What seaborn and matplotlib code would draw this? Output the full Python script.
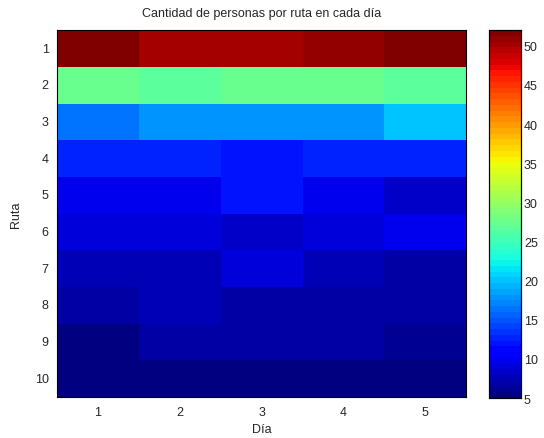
import numpy as np
import pandas as pd
import matplotlib
matplotlib.use("Agg")
import matplotlib.pyplot as plt
import seaborn as sns

dias = ["1", "2", "3", "4", "5"]
rutas = ["1", "2", "3", "4", "5", "6", "7", "8", "9", "10"]
ruta1 = [52.0, 50.1, 50.1, 50.9, 52.0]
ruta2 = [27.2, 26.6, 27.2, 27.2, 26.6]
ruta3 = [16.4, 17.6, 17.6, 17.6, 19.9]
ruta4 = [12.9, 12.9, 12.0, 12.9, 12.9]
ruta5 = [9.8, 9.8, 11.8, 9.8, 8.6]
ruta6 = [9.4, 9.4, 8.3, 8.8, 9.8]
ruta7 = [7.4, 7.4, 9.0, 7.7, 7.2]
ruta8 = [6.6, 7.3, 6.8, 6.8, 6.8]
ruta9 = [5.6, 6.5, 6.5, 6.5, 6.1]
ruta10 = [5.4, 5.3, 5.0, 5.2, 5.4]
cbar_ticks = [5, 10, 15, 20, 25, 30, 35, 40, 45, 50]

data = pd.DataFrame([ruta1, ruta2, ruta3, ruta4, ruta5, ruta6, ruta7, ruta8, ruta9, ruta10],
                    index=rutas, columns=dias)

sns.set_style("white")
plt.rcParams['font.family'] = ['Liberation Sans', 'DejaVu Sans']

fig = plt.figure(figsize=(5.44, 4.39), dpi=100)
ax = fig.add_axes([0.105, 0.093, 0.752, 0.836])
cax = fig.add_axes([0.899, 0.091, 0.059, 0.838])

cmap = plt.get_cmap('jet', 64)
sns.heatmap(data, ax=ax, cbar_ax=cax, cmap=cmap, vmin=5, vmax=52,
            cbar_kws={'ticks': cbar_ticks})

ax.set_title("Cantidad de personas por ruta en cada día", fontsize=9, pad=10)
ax.set_xlabel("Día", fontsize=9, labelpad=4)
ax.set_ylabel("Ruta", fontsize=9, labelpad=9)
ax.tick_params(axis='both', direction='in', length=3, width=0.6, labelsize=9,
               top=True, right=True, bottom=True, left=True, pad=6, color='black')
ax.set_yticklabels(rutas, rotation=0)
ax.set_xticklabels(dias, rotation=0)
for s in ax.spines.values():
    s.set_visible(True)
    s.set_color('black')
    s.set_linewidth(0.8)

cax.tick_params(direction='in', length=3, width=0.6, labelsize=9, left=True, right=True,
                color='black', pad=2)
for s in cax.spines.values():
    s.set_visible(True)
    s.set_color('black')
    s.set_linewidth(0.8)
cax.set_yticklabels([str(t) for t in cbar_ticks])

fig.savefig("out.png", dpi=100)
